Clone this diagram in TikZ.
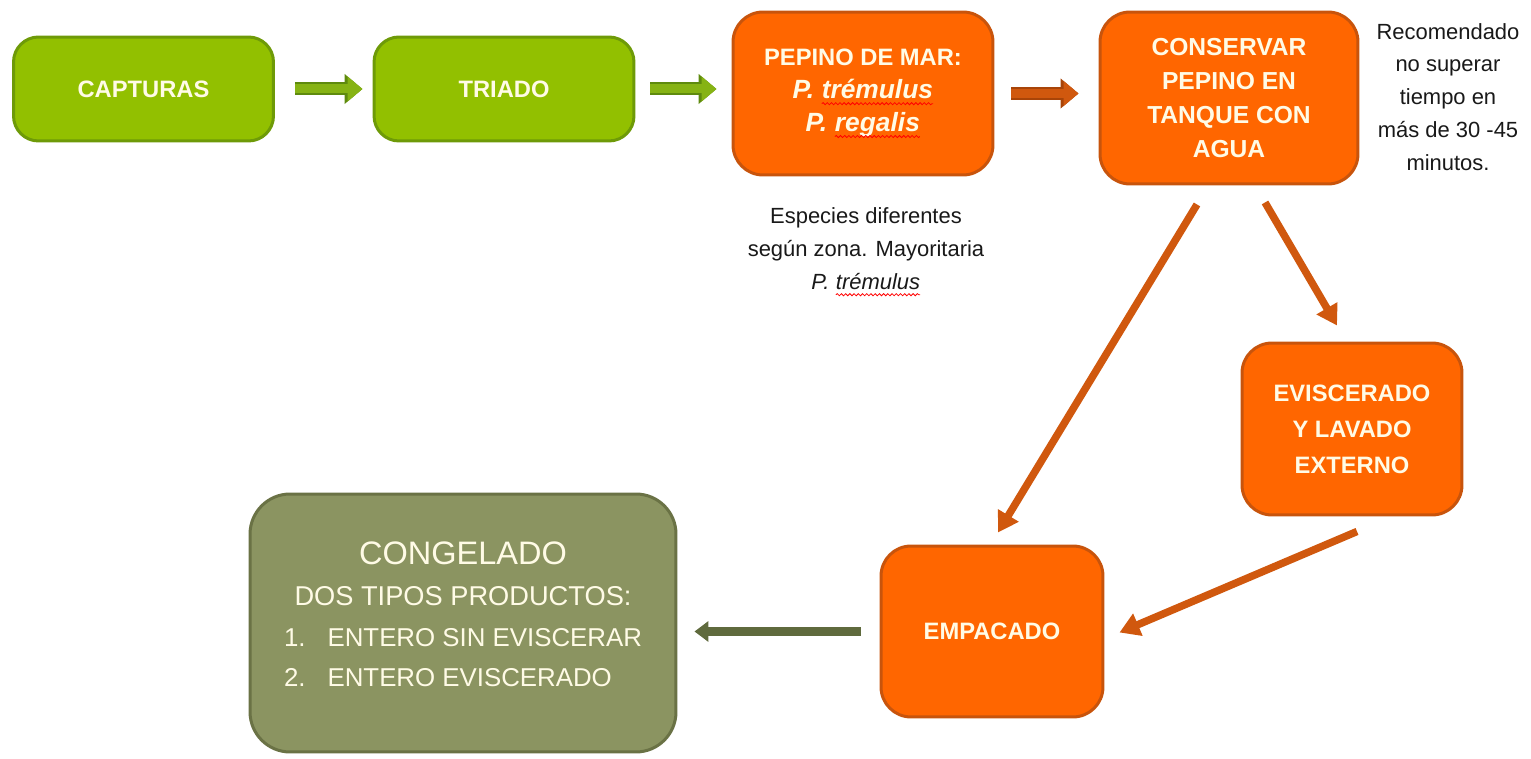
\documentclass[tikz,border=0pt]{standalone}
\usepackage{fontspec}
\setmainfont{Liberation Sans}
\usetikzlibrary{arrows.meta,calc,decorations.pathmorphing}
\definecolor{capgreen}{HTML}{92C000}
\definecolor{capgreenedge}{HTML}{6E9A08}
\definecolor{arrgreen}{HTML}{86B314}
\definecolor{arrgreenedge}{HTML}{5E8A0E}
\definecolor{pepinoorange}{HTML}{FF6600}
\definecolor{pepinoedge}{HTML}{C8540C}
\definecolor{linkorange}{HTML}{D0580E}
\definecolor{linkorangeedge}{HTML}{A84408}
\definecolor{congelfill}{HTML}{8B9461}
\definecolor{congeledge}{HTML}{6A7245}
\definecolor{congelarrow}{HTML}{5F6A3D}
\definecolor{cream}{HTML}{FFFBE6}
\newcommand\squig[1]{\tikz[baseline=(sq.base), sharp corners]{\node[inner sep=0pt, outer sep=0pt, minimum size=0pt,
		draw=none, fill=none, font={}] (sq) {#1};
	\draw[red, line width=0.45pt, sharp corners, decorate, decoration={snake,amplitude=0.6pt,segment length=2.4pt}]
		([yshift=-3pt]sq.base west) -- ([yshift=-3pt]sq.base east);}}
\tikzset{
	box/.style={line width=0.06cm, text=cream, align=center, inner sep=0pt,
		font=\bfseries\fontsize{13.5}{18.7}\selectfont},
	greenbox/.style={box, fill=capgreen, draw=capgreenedge, rounded corners=0.5cm,
		minimum width=5.2cm, minimum height=2.08cm},
	orangebox/.style={box, fill=pepinoorange, draw=pepinoedge, rounded corners=0.6cm},
	congelbox/.style={box, fill=congelfill, draw=congeledge, rounded corners=0.8cm,
		font=\fontsize{15.5}{23.2}\selectfont},
	note/.style={align=center, text=black!90, inner sep=0pt,
		font=\fontsize{12.5}{18.7}\selectfont},
	blockarrow/.style 2 args={draw=#1, line width=0.18cm, -{Triangle[length=0.3cm,width=0.48cm]},
		preaction={draw=#2, line width=0.26cm, -{Triangle[length=0.36cm,width=0.58cm]}}},
	linkarrow/.style={draw=linkorange, line width=0.15cm, -{Triangle[length=0.4cm,width=0.46cm]}},
	backarrow/.style={draw=congelarrow, line width=0.2cm, -{Triangle[length=0.28cm,width=0.4cm]}}
}
\begin{document}
\begin{tikzpicture}[x=0.02cm,y=-0.02cm]
	\useasboundingbox (0,0) rectangle (1531,759);
	\node[greenbox] (capt) at (143.5,89) {CAPTURAS};
	\node[greenbox] (triado) at (504,89) {TRIADO};
	\node[orangebox, minimum width=5.2cm, minimum height=3.26cm] (pepino) at (863,93.5)
		{PEPINO DE MAR:\\{\itshape\fontsize{15}{18.7}\selectfont P. \squig{trémulus}}\\{\itshape\fontsize{15}{18.7}\selectfont P. \squig{regalis}}};
	\node[orangebox, minimum width=5.16cm, minimum height=3.44cm, font=\bfseries\fontsize{14}{19.4}\selectfont] (conservar) at (1229,98)
		{CONSERVAR\\PEPINO EN\\TANQUE CON\\AGUA};
	\node[orangebox, minimum width=4.4cm, minimum height=3.44cm, font=\bfseries\fontsize{13.5}{20.4}\selectfont] (evisc) at (1352,429)
		{EVISCERADO\\Y LAVADO\\EXTERNO};
	\node[orangebox, minimum width=4.44cm, minimum height=3.42cm] (empac) at (992,631.5) {EMPACADO};
	\node[congelbox, minimum width=8.52cm, minimum height=5.16cm] (congel) at (463,623)
		{{\fontsize{18.5}{23.2}\selectfont CONGELADO}\\DOS TIPOS PRODUCTOS:\\
		{\fontsize{14.7}{23.2}\selectfont\begin{tabular}[t]{@{}l@{\hspace{0.44cm}}l@{}}1.&ENTERO SIN EVISCERAR\\2.&ENTERO EVISCERADO\end{tabular}}\\[0.06cm]};
	\node[note] (especies) at (866,252) {Especies diferentes\\según zona. Mayoritaria\\{\itshape P. \squig{trémulus}}};
	\node[note] (nota) at (1448,97) {Recomendado\\no superar\\tiempo en\\más de 30 -45\\minutos.};
	\draw[blockarrow={arrgreen}{arrgreenedge}, shorten <=0.4cm, shorten >=0.2cm] (capt) -- (triado);
	\draw[blockarrow={arrgreen}{arrgreenedge}, shorten <=0.3cm, shorten >=0.3cm] (triado.east) -- (triado.east -| pepino.west);
	\draw[blockarrow={linkorange}{linkorangeedge}, shorten <=0.34cm, shorten >=0.4cm] (pepino.east) -- (pepino.east -| conservar.west);
	\draw[linkarrow] ($(conservar.south)+(-32,19)$) -- ($(empac.north)+(6,-12)$);
	\draw[linkarrow] ($(conservar.south)+(36,17)$) -- ($(evisc.north)+(-15,-16)$);
	\draw[linkarrow] ($(evisc.south)+(5,15)$) -- ($(empac.east)+(15,1)$);
	\draw[backarrow, shorten <=0.38cm, shorten >=0.34cm] (empac.west) -- (empac.west -| congel.east);
\end{tikzpicture}
\end{document}
